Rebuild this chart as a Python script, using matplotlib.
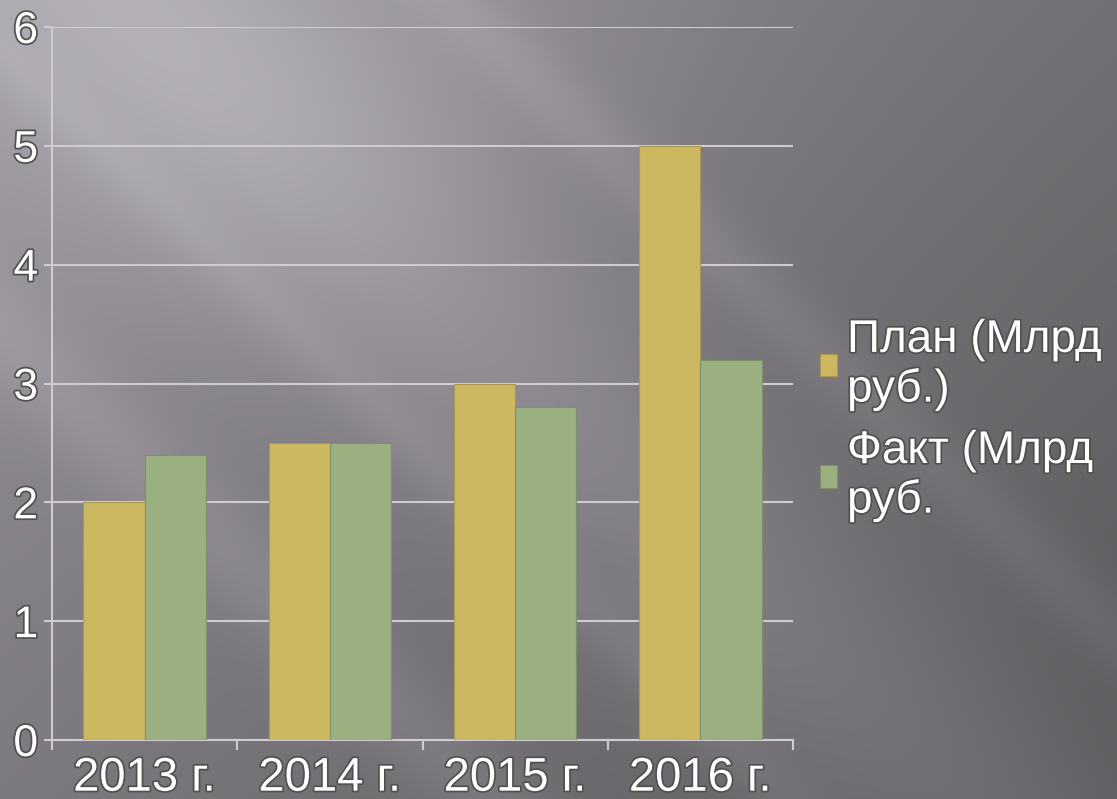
import numpy as np
import matplotlib.pyplot as plt
import matplotlib.patheffects as pe

years = ['2013 г.', '2014 г.', '2015 г.', '2016 г.']
plan = [2.0, 2.5, 3.0, 5.0]
fact = [2.4, 2.5, 2.8, 3.2]
labels = ['План (Млрд\nруб.)', 'Факт (Млрд\nруб.']

plt.rcParams['font.family'] = ['Liberation Sans', 'DejaVu Sans']

fig = plt.figure(figsize=(11.17, 7.99), dpi=100)

# background: dark gray with lighter diagonal streaks
bg = fig.add_axes([0, 0, 1, 1], zorder=-10)
h, w = 799, 1117
yy, xx = np.mgrid[0:h, 0:w]
base = 0.60 - 0.14 * (xx / w) - 0.10 * (yy / h)
d = (xx - yy * 1.05) / 100.0
streak = 0.07 * np.exp(-((d - 1.2) / 2.0) ** 2) + 0.05 * np.exp(-((d + 3.5) / 0.7) ** 2)
streak += 0.04 * np.exp(-((d - 4.5) / 0.5) ** 2) + 0.03 * np.exp(-((d + 0.5) / 0.4) ** 2)
glow = 0.08 * np.exp(-(((xx - 250) / 350.0) ** 2 + ((yy - 80) / 250.0) ** 2))
v = np.clip(base + streak + glow, 0, 1)
img = np.dstack([v * 0.985, v * 0.96, v * 1.0])
bg.imshow(np.clip(img, 0, 1), aspect='auto', extent=[0, 1, 0, 1])
bg.axis('off')

ax = fig.add_axes([52 / 1117, 1 - 740 / 799, (793 - 52) / 1117, (740 - 27) / 799])
ax.patch.set_alpha(0)

x = np.arange(len(years))
bw = 0.33
b1 = ax.bar(x - bw / 2, plan, bw, color='#CDB862', edgecolor='#A89850', linewidth=0.8, zorder=3, label=labels[0])
b2 = ax.bar(x + bw / 2, fact, bw, color='#9BB080', edgecolor='#7F9068', linewidth=0.8, zorder=3, label=labels[1])

ax.set_xlim(-0.5, len(years) - 0.5)
ax.set_ylim(0, 6)
ax.set_yticks(range(7))
ax.yaxis.grid(True, color='#CFCBD0', linewidth=1.5, zorder=1)
ax.set_axisbelow(True)

for s in ['top', 'right']:
    ax.spines[s].set_visible(False)
for s in ['left', 'bottom']:
    ax.spines[s].set_color('#CFCBD0')
    ax.spines[s].set_linewidth(1.5)

outline = [pe.withStroke(linewidth=2.5, foreground='#505050')]
ax.set_xticks(x)
ax.set_xticklabels(years)
ax.set_xticks(np.arange(-0.5, len(years), 1), minor=True)
ax.tick_params(axis='x', which='major', length=0, pad=12, labelsize=34, labelcolor='white')
ax.tick_params(axis='x', which='minor', length=7, width=1.5, color='#CFCBD0', direction='out')
ax.tick_params(axis='y', length=6, width=1.5, color='#CFCBD0', pad=4, labelsize=32, labelcolor='white')
for t in ax.get_xticklabels() + ax.get_yticklabels():
    t.set_path_effects(outline)

leg = ax.legend(handles=[b1, b2], loc='center left', bbox_to_anchor=(820 / 1117, 0.474),
                bbox_transform=fig.transFigure, frameon=False, fontsize=33,
                handlelength=0.37, handleheight=0.37, handletextpad=0.22,
                labelspacing=0.38, borderaxespad=0, borderpad=0)
for t in leg.get_texts():
    t.set_color('white')
    t.set_linespacing(1.14)
    t.set_path_effects(outline)

fig.savefig('out.png', dpi=100)
